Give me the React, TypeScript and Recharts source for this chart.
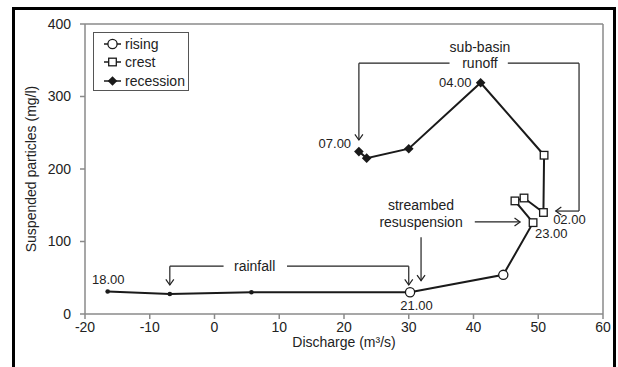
import React from 'react';
import { ComposedChart, XAxis, YAxis, Scatter, ReferenceLine } from 'recharts';

// ---- data ----
const hours = ['18.00', '19.00', '20.00', '21.00', '22.00', '23.00', '00.00', '01.00', '02.00', '03.00', '04.00', '05.00', '06.00', '07.00'];
const discharge = [-16.5, -6.9, 5.7, 30.2, 44.6, 49.2, 46.4, 47.8, 50.8, 50.9, 41.1, 30.0, 23.5, 22.3];
const particles = [31, 27.6, 30, 30, 54, 126, 156, 160, 140, 219, 319, 228, 215, 224];
const phase = ['pre', 'pre', 'pre', 'rising', 'rising', 'crest', 'crest', 'crest', 'crest', 'crest', 'recession', 'recession', 'recession', 'recession'];

const xTicks = [-20, -10, 0, 10, 20, 30, 40, 50, 60];
const yTicks = [0, 100, 200, 300, 400];

// time labels shown next to points
const timeLabelText = ['18.00', '21.00', '23.00', '02.00', '04.00', '07.00'];
const timeLabelX = [-16.4, 31.2, 49.5, 52.3, 39.7, 21.1];
const timeLabelY = [48, 12, 111, 131, 319, 235];
const timeLabelAnchor = ['middle', 'middle', 'start', 'start', 'end', 'end'];

// annotation texts
const noteText = ['rainfall', 'streambed', 'resuspension', 'sub-basin', 'runoff'];
const noteX = [6.2, 31.9, 31.9, 41, 41];
const noteY = [66, 150, 127, 368, 346];

// annotation arrows: polylines, last point is the tip
const arrowPaths: { pts: [number, number][]; dir: string }[] = [
  { pts: [[1.4, 66], [-6.9, 66], [-6.9, 40]], dir: 'down' },
  { pts: [[11.2, 66], [30.0, 66], [30.0, 40]], dir: 'down' },
  { pts: [[31.9, 106], [31.9, 46]], dir: 'down' },
  { pts: [[40.2, 127], [47.2, 127]], dir: 'right' },
  { pts: [[36.3, 346], [22.3, 346], [22.3, 240]], dir: 'down' },
  { pts: [[45.3, 346], [56.3, 346], [56.3, 142], [52.7, 142]], dir: 'left' },
];

const FONT = '"Liberation Sans", Arial, sans-serif';
const INK = '#1a1a1a';
const AXIS = '#8a8a8a';

const pathData = discharge.map((x, i) => ({ x, y: particles[i], t: hours[i] }));
const byPhase = (p: string) => pathData.filter((_, i) => phase[i] === p);
const timeLabels = timeLabelText.map((text, i) => ({ x: timeLabelX[i], y: timeLabelY[i], text, anchor: timeLabelAnchor[i] }));
const notes = noteText.map((text, i) => ({ x: noteX[i], y: noteY[i], text }));
const arrowTips = arrowPaths.map((a) => ({ x: a.pts[a.pts.length - 1][0], y: a.pts[a.pts.length - 1][1], dir: a.dir }));
const segments: { x: number; y: number }[][] = [];
arrowPaths.forEach((a) => {
  for (let i = 0; i < a.pts.length - 1; i++) {
    segments.push([
      { x: a.pts[i][0], y: a.pts[i][1] },
      { x: a.pts[i + 1][0], y: a.pts[i + 1][1] },
    ]);
  }
});

const Dot = (p: any) => <circle cx={p.cx} cy={p.cy} r={2.3} fill={INK} />;
const Circ = (p: any) => <circle cx={p.cx} cy={p.cy} r={4.6} fill="#fff" stroke={INK} strokeWidth={1.3} />;
const Sq = (p: any) => <rect x={p.cx - 3.8} y={p.cy - 3.8} width={7.6} height={7.6} fill="#fff" stroke={INK} strokeWidth={1.3} />;
const Dia = (p: any) => (
  <polygon points={`${p.cx},${p.cy - 4.8} ${p.cx + 4.8},${p.cy} ${p.cx},${p.cy + 4.8} ${p.cx - 4.8},${p.cy}`} fill={INK} />
);
const Nothing = () => <g />;

const TimeText = (p: any) => (
  <text x={p.cx} y={p.cy} textAnchor={p.payload.anchor} dominantBaseline="central" fontSize={13} fontFamily={FONT} fill="#222">
    {p.payload.text}
  </text>
);
const NoteText = (p: any) => (
  <text x={p.cx} y={p.cy} textAnchor="middle" dominantBaseline="central" fontSize={14} fontFamily={FONT} fill="#222">
    {p.payload.text}
  </text>
);
const Tip = (p: any) => {
  const { cx, cy } = p;
  const s = 4;
  let d = '';
  if (p.payload.dir === 'down') d = `M${cx - s},${cy - s * 1.4} L${cx},${cy} L${cx + s},${cy - s * 1.4}`;
  if (p.payload.dir === 'right') d = `M${cx - s * 1.4},${cy - s} L${cx},${cy} L${cx - s * 1.4},${cy + s}`;
  if (p.payload.dir === 'left') d = `M${cx + s * 1.4},${cy - s} L${cx},${cy} L${cx + s * 1.4},${cy + s}`;
  return <path d={d} fill="none" stroke="#222" strokeWidth={1.2} />;
};

const legendItems = [
  { name: 'rising', Shape: Circ },
  { name: 'crest', Shape: Sq },
  { name: 'recession', Shape: Dia },
];

const LegendBox = () => (
  <div
    style={{
      position: 'absolute',
      left: 93,
      top: 32,
      border: '1.5px solid #555',
      width: 96,
      height: 59,
      boxSizing: 'border-box',
      padding: '2px 0 0 8px',
      fontFamily: FONT,
      fontSize: 14,
      color: '#222',
      background: '#fff',
    }}
  >
    {legendItems.map(({ name, Shape }) => (
      <div key={name} style={{ display: 'flex', alignItems: 'center', height: 18.3 }}>
        <svg width={22} height={12} style={{ marginRight: 1 }}>
          <line x1={2} y1={6} x2={19} y2={6} stroke={INK} strokeWidth={1.5} />
          <Shape cx={10.5} cy={6} />
        </svg>
        <span>{name}</span>
      </div>
    ))}
  </div>
);

const YTitle = (props: any) => {
  const vb = props.viewBox || { x: 25, y: 24, width: 60, height: 290 };
  const cx = vb.x + 6;
  const cy = vb.y + vb.height / 2;
  return (
    <text x={cx} y={cy} transform={`rotate(-90, ${cx}, ${cy})`} textAnchor="middle" dominantBaseline="central" fontSize={14} fontFamily={FONT} fill="#222">
      Suspended particles (mg/l)
    </text>
  );
};
const XTitle = (props: any) => {
  const vb = props.viewBox || { x: 85, y: 314, width: 518, height: 30 };
  return (
    <text x={vb.x + vb.width / 2} y={vb.y + 28} textAnchor="middle" dominantBaseline="central" fontSize={14} fontFamily={FONT} fill="#222">
      Discharge (m³/s)
    </text>
  );
};

export default function App() {
  return (
    <div style={{ position: 'absolute', left: 0, top: 0, width: 618, height: 367, overflow: 'hidden', background: '#fff' }}>
      <ComposedChart width={618} height={367} margin={{ top: 24, right: 15, bottom: 23, left: 25 }}>
        <XAxis
          type="number"
          dataKey="x"
          domain={[-20, 60]}
          ticks={xTicks}
          allowDataOverflow
          stroke={AXIS}
          strokeWidth={1.5}
          tickSize={5}
          tickMargin={3}
          height={30}
          tick={{ fontSize: 14, fill: '#222', fontFamily: FONT }}
          label={<XTitle />}
        />
        <YAxis
          type="number"
          dataKey="y"
          domain={[0, 400]}
          ticks={yTicks}
          allowDataOverflow
          stroke={AXIS}
          strokeWidth={1.5}
          tickSize={5}
          tickMargin={9}
          width={60}
          tick={{ fontSize: 14, fill: '#222', fontFamily: FONT }}
          label={<YTitle />}
        />
        <ReferenceLine y={400} stroke={AXIS} strokeWidth={1.5} />
        <ReferenceLine x={60} stroke={AXIS} strokeWidth={1.5} />
        {segments.map((seg, i) => (
          <ReferenceLine key={i} segment={seg} stroke="#222" strokeWidth={1.2} ifOverflow="visible" />
        ))}
        <Scatter data={arrowTips} dataKey="y" shape={<Tip />} isAnimationActive={false} legendType="none" />
        <Scatter data={notes} dataKey="y" shape={<NoteText />} isAnimationActive={false} legendType="none" />
        <Scatter data={timeLabels} dataKey="y" shape={<TimeText />} isAnimationActive={false} legendType="none" />
        <Scatter
          data={pathData}
          dataKey="y"
          line={{ stroke: INK, strokeWidth: 2 }}
          lineType="joint"
          shape={<Nothing />}
          isAnimationActive={false}
          legendType="none"
        />
        <Scatter data={byPhase('pre')} dataKey="y" shape={<Dot />} isAnimationActive={false} legendType="none" />
        <Scatter name="rising" data={byPhase('rising')} dataKey="y" shape={<Circ />} isAnimationActive={false} />
        <Scatter name="crest" data={byPhase('crest')} dataKey="y" shape={<Sq />} isAnimationActive={false} />
        <Scatter name="recession" data={byPhase('recession')} dataKey="y" shape={<Dia />} isAnimationActive={false} />
      </ComposedChart>
      <LegendBox />
      <div
        style={{
          position: 'absolute',
          left: 12,
          top: 7,
          width: 598,
          height: 357,
          borderTop: '3px solid #000',
          borderLeft: '3px solid #000',
          borderRight: '3px solid #000',
          pointerEvents: 'none',
        }}
      />
    </div>
  );
}
